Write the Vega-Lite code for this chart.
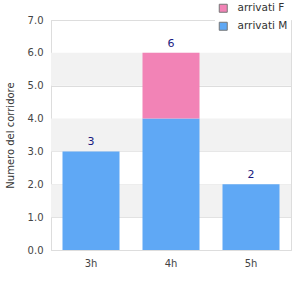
{
  "$schema": "https://vega.github.io/schema/vega-lite/v6.json",
  "autosize": "none",
  "width": 240,
  "height": 230,
  "padding": {"left": 51, "top": 20, "right": 9, "bottom": 50},
  "background": "white",
  "config": {
    "font": "DejaVu Sans",
    "view": {"stroke": "#dddddd"},
    "axis": {"labelFont": "DejaVu Sans", "titleFont": "DejaVu Sans", "labelColor": "#444444", "titleColor": "#333333", "labelFontSize": 10, "titleFontSize": 10, "titleFontWeight": "normal", "domainColor": "#dddddd", "gridColor": "#dddddd", "ticks": false},
    "legend": {"labelFont": "DejaVu Sans", "labelFontSize": 10.5, "labelColor": "#333333"}
  },
  "datasets": {
    "bars": [
      {"ora": "3h", "serie": "arrivati M", "n": 3},
      {"ora": "4h", "serie": "arrivati M", "n": 4},
      {"ora": "4h", "serie": "arrivati F", "n": 2},
      {"ora": "5h", "serie": "arrivati M", "n": 2}
    ],
    "bands": [
      {"lo": 1, "hi": 2},
      {"lo": 3, "hi": 4},
      {"lo": 5, "hi": 6}
    ]
  },
  "layer": [
    {
      "data": {"name": "bands"},
      "mark": {"type": "rect", "color": "#f2f2f2"},
      "encoding": {
        "y": {"field": "lo", "type": "quantitative", "scale": {"domain": [0, 7], "nice": false}, "axis": {"title": "Numero del corridore", "tickCount": 7, "format": ".1f", "labelOverlap": false, "labelFlush": false, "labelPadding": 8, "titlePadding": 12, "grid": true, "domain": true, "zindex": 0}},
        "y2": {"field": "hi"}
      }
    },
    {
      "data": {"name": "bars"},
      "mark": {"type": "bar"},
      "encoding": {
        "x": {"field": "ora", "type": "nominal", "scale": {"paddingInner": 0.2875, "paddingOuter": 0.14375}, "axis": {"title": null, "labelAngle": 0, "labelPadding": 8, "domain": true, "grid": false}},
        "y": {"field": "n", "type": "quantitative", "stack": "zero", "scale": {"domain": [0, 7], "nice": false}, "axis": {"title": "Numero del corridore", "tickCount": 7, "format": ".1f", "labelOverlap": false, "labelFlush": false, "labelPadding": 8, "titlePadding": 12, "grid": true, "domain": true, "zindex": 0}},
        "color": {"field": "serie", "type": "nominal", "scale": {"domain": ["arrivati F", "arrivati M"], "range": ["#f283b6", "#5fa8f5"]}, "legend": {"title": null, "orient": "none", "legendX": 164, "legendY": -20, "fillColor": "white", "symbolType": "square", "symbolSize": 64, "symbolStrokeColor": "#777777", "symbolStrokeWidth": 1, "rowPadding": 5, "labelOffset": 9, "padding": 3}},
        "order": {"field": "serie", "sort": "descending"}
      }
    },
    {
      "data": {"name": "bars"},
      "transform": [{"aggregate": [{"op": "sum", "field": "n", "as": "tot"}], "groupby": ["ora"]}],
      "mark": {"type": "text", "dy": -9, "color": "#1a1a80", "fontSize": 11},
      "encoding": {
        "x": {"field": "ora", "type": "nominal"},
        "y": {"field": "tot", "type": "quantitative"},
        "text": {"field": "tot", "type": "quantitative"}
      }
    }
  ]
}
